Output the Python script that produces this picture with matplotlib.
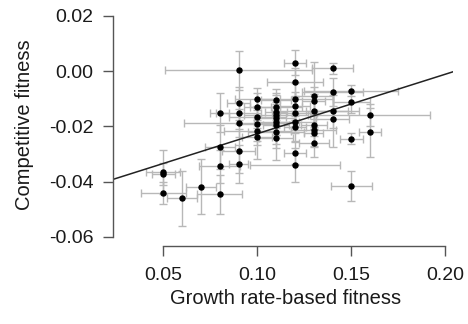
import matplotlib
matplotlib.use("Agg")
import matplotlib.pyplot as plt

# growth rate-based fitness (x) and competitive fitness (y), with errors
growth = [0.05, 0.05, 0.05,
          0.06,
          0.07,
          0.08, 0.08, 0.08, 0.08,
          0.09, 0.09, 0.09, 0.09, 0.09, 0.09,
          0.10, 0.10, 0.10, 0.10, 0.10, 0.10,
          0.11, 0.11, 0.11, 0.11, 0.11, 0.11, 0.11, 0.11, 0.11,
          0.12, 0.12, 0.12, 0.12, 0.12, 0.12, 0.12, 0.12, 0.12,
          0.13, 0.13, 0.13, 0.13, 0.13, 0.13, 0.13,
          0.14, 0.14, 0.14, 0.14,
          0.15, 0.15, 0.15, 0.15,
          0.16, 0.16]
competitive = [-0.0364, -0.0372, -0.0440,
               -0.0460,
               -0.0418,
               -0.0151, -0.0276, -0.0344, -0.0446,
               0.0003, -0.0117, -0.0151, -0.0189, -0.0289, -0.0336,
               -0.0101, -0.0129, -0.0165, -0.0192, -0.0216, -0.0240,
               -0.0105, -0.0129, -0.0147, -0.0159, -0.0171, -0.0183, -0.0195, -0.0219, -0.0243,
               0.0030, -0.0039, -0.0102, -0.0127, -0.0153, -0.0183, -0.0204, -0.0298, -0.0340,
               -0.0089, -0.0108, -0.0143, -0.0195, -0.0213, -0.0225, -0.0261,
               0.0010, -0.0075, -0.0145, -0.0175,
               -0.0071, -0.0111, -0.0245, -0.0416,
               -0.0159, -0.0222]
growth_err = [0.009, 0.006, 0.012,
              0.008,
              0.008,
              0.005, 0.008, 0.011, 0.012,
              0.039, 0.006, 0.012, 0.029, 0.009, 0.005,
              0.012, 0.007, 0.015, 0.010, 0.018, 0.008,
              0.008, 0.014, 0.006, 0.017, 0.010, 0.012, 0.007, 0.015, 0.009,
              0.006, 0.015, 0.020, 0.008, 0.012, 0.010, 0.006, 0.006, 0.024,
              0.010, 0.006, 0.018, 0.007, 0.012, 0.005, 0.008,
              0.011, 0.016, 0.014, 0.009,
              0.025, 0.010, 0.006, 0.011,
              0.032, 0.006]
competitive_err = [0.008, 0.004, 0.004,
                   0.010,
                   0.010,
                   0.007, 0.008, 0.006, 0.007,
                   0.007, 0.006, 0.004, 0.005, 0.008, 0.007,
                   0.004, 0.005, 0.004, 0.006, 0.005, 0.008,
                   0.004, 0.005, 0.006, 0.004, 0.006, 0.005, 0.007, 0.006, 0.008,
                   0.0045, 0.005, 0.006, 0.005, 0.006, 0.004, 0.005, 0.004, 0.006,
                   0.012, 0.005, 0.006, 0.004, 0.006, 0.005, 0.005,
                   0.002, 0.005, 0.006, 0.010,
                   0.002, 0.004, 0.002, 0.0055,
                   0.004, 0.009]

# fitted regression line
fit_intercept = -0.0442
fit_slope = 0.2152

x_ticks = [0.05, 0.10, 0.15, 0.20]
x_tick_labels = ["0.05", "0.10", "0.15", "0.20"]
y_ticks = [0.02, 0.00, -0.02, -0.04, -0.06]
y_tick_labels = ["0.02", "0.00", "-0.02", "-0.04", "-0.06"]

plt.rcParams["font.family"] = ["Liberation Sans", "DejaVu Sans"]

fig = plt.figure(figsize=(4.68, 3.24), dpi=100)
ax = fig.add_axes([113 / 468, 1 - 245.7 / 324, 340 / 468, 238.8 / 324])

ax.errorbar(growth, competitive, xerr=growth_err, yerr=competitive_err,
            fmt="none", ecolor="#b8b8b8", elinewidth=1.0, capsize=3.2,
            capthick=1.0, zorder=1)
ax.plot(growth, competitive, "o", color="black", markersize=3.6, zorder=3)
ax.axline((0, fit_intercept), slope=fit_slope, color="#222222",
          linewidth=1.1, zorder=2)

ax.set_xlim(0.0232, 0.2041)
ax.set_ylim(-0.0632, 0.0232)

for side in ["top", "right"]:
    ax.spines[side].set_visible(False)
for side in ["left", "bottom"]:
    ax.spines[side].set_color("#555555")
    ax.spines[side].set_linewidth(1.0)
ax.spines["left"].set_bounds(-0.06, 0.02)
ax.spines["bottom"].set_bounds(0.05, 0.20)

ax.set_xticks(x_ticks)
ax.set_xticklabels(x_tick_labels)
ax.set_yticks(y_ticks)
ax.set_yticklabels(y_tick_labels)
ax.tick_params(axis="both", direction="out", length=7, width=1.0,
               color="#555555", labelsize=14, labelcolor="#1a1a1a")
ax.tick_params(axis="x", pad=8)
ax.tick_params(axis="y", pad=7)

fig.text(285.8 / 468, 1 - 298 / 324, "Growth rate-based fitness",
         ha="center", va="center", fontsize=14.5, color="#1a1a1a")
fig.text(25 / 468, 1 - 125 / 324, "Competitive fitness", rotation=90,
         ha="center", va="center", fontsize=14.5, color="#1a1a1a")

fig.savefig("out.png", dpi=100)
plt.close(fig)
